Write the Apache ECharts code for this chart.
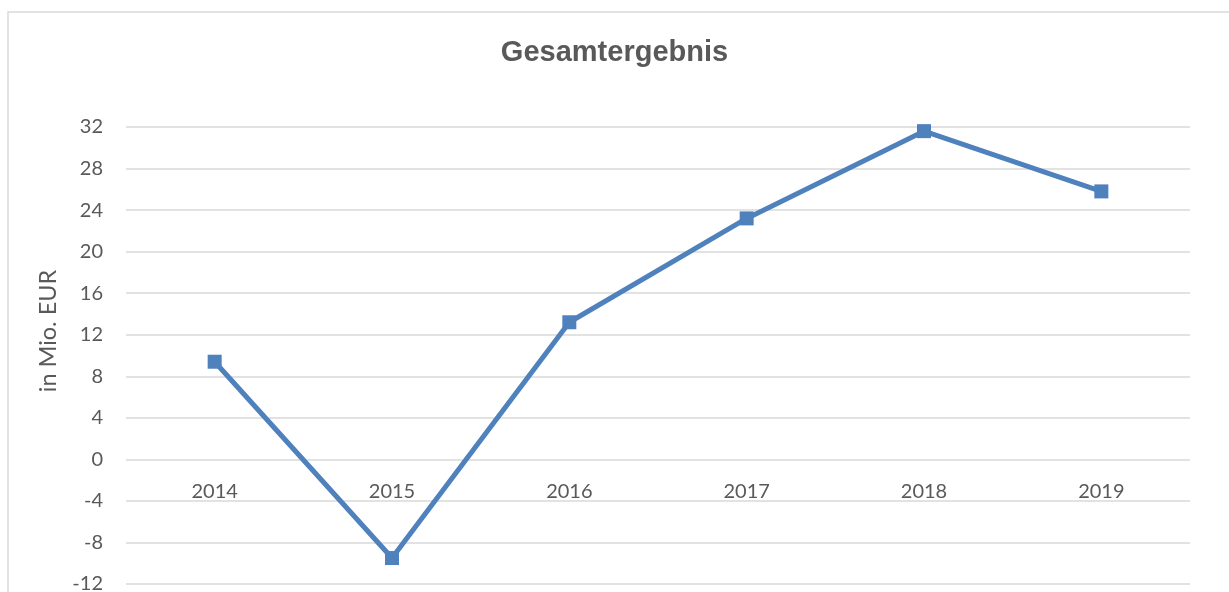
<!DOCTYPE html>
<html><head><meta charset="utf-8">
<script src="https://cdn.jsdelivr.net/npm/echarts@6/dist/echarts.min.js"></script>
<style>html,body{margin:0;padding:0;background:#fff}#c{width:1229px;height:592px}</style>
</head><body><div id="c"></div>
<script>
const titleText = 'Gesamtergebnis';
const yAxisName = 'in Mio. EUR';
const categories = ['2014','2015','2016','2017','2018','2019'];
const values = [9.4, -9.5, 13.2, 23.2, 31.6, 25.8];
const yMin = -12, yMax = 32, yStep = 4;

const H = 592, gridTop = 127, gridBottom = 8;
const gridH = H - gridTop - gridBottom;
const zeroOffset = gridH * (0 - yMin) / (yMax - yMin);

const chart = echarts.init(document.getElementById('c'));
chart.setOption({
  animation: false,
  backgroundColor: '#fff',
  title: {
    text: titleText, left: 'center', top: 33,
    textStyle: { fontFamily: 'Liberation Sans, Arial', fontWeight: 'bold', fontSize: 29, color: '#595959' }
  },
  graphic: [
    { type: 'rect', shape: { x: 8, y: 12, width: 1240, height: 620 }, style: { fill: 'none', stroke: '#d9d9d9', lineWidth: 1.5 }, z: -1 },
    { type: 'text', x: 48, y: 331, rotation: Math.PI / 2,
      style: { text: yAxisName, fontFamily: 'Lato, Open Sans', fontSize: 23.5, fill: '#595959', align: 'center', verticalAlign: 'middle' } }
  ],
  grid: { left: 126, right: 39, top: gridTop, bottom: gridBottom, outerBoundsMode: 'none', containLabel: false },
  xAxis: {
    type: 'category', data: categories, boundaryGap: true, position: 'bottom', offset: -zeroOffset,
    axisLine: { show: false, onZero: false }, axisTick: { show: false },
    axisLabel: { margin: 22, fontFamily: 'Lato, Open Sans', fontSize: 20, color: '#595959' }
  },
  yAxis: {
    type: 'value', min: yMin, max: yMax, interval: yStep,
    axisLine: { show: false }, axisTick: { show: false },
    axisLabel: { margin: 23, fontFamily: 'Lato, Open Sans', fontSize: 20, color: '#595959' },
    splitLine: { lineStyle: { color: '#d9d9d9', width: 1.5 } }
  },
  series: [{
    type: 'line', data: values, symbol: 'rect', symbolSize: 14,
    lineStyle: { color: '#4F81BD', width: 5 },
    itemStyle: { color: '#4F81BD' }
  }]
});
</script></body></html>
